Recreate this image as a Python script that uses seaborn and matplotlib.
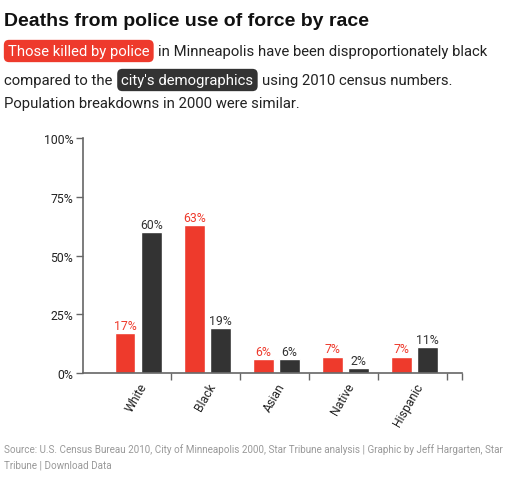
import matplotlib
matplotlib.use("Agg")
import matplotlib.pyplot as plt
import seaborn as sns
import pandas as pd
import numpy as np

categories = ["White", "Black", "Asian", "Native", "Hispanic"]
killed = [17, 63, 6, 7, 7]
demographics = [60, 19, 6, 2, 11]
killed_labels = ["17%", "63%", "6%", "7%", "7%"]
demo_labels = ["60%", "19%", "6%", "2%", "11%"]
series = ["Those killed by police", "City's demographics"]
yticks = [0, 25, 50, 75, 100]
ytick_labels = ["0%", "25%", "50%", "75%", "100%"]

RED = "#ee3a2c"
DARK = "#333333"

df = pd.DataFrame({
    "race": categories * 2,
    "value": killed + demographics,
    "series": [series[0]] * 5 + [series[1]] * 5,
})

sns.set_theme(style="white")
plt.rcParams['font.family'] = ['Roboto', 'DejaVu Sans']

W, H = 525, 485
fig = plt.figure(figsize=(W / 100, H / 100), dpi=100)
ax = fig.add_axes([83 / W, 1 - 374 / H, (462 - 83) / W, (374 - 139) / H])

sns.barplot(data=df, x="race", y="value", hue="series", order=categories,
            hue_order=series, palette=[RED, DARK], width=0.76, gap=0.21,
            saturation=1, legend=False, ax=ax)

ax.set_xlim(-0.80, 4.69)
ax.set_ylim(0, 100)
ax.set_xlabel("")
ax.set_ylabel("")

# value labels
for cont, labs, col in zip(ax.containers, [killed_labels, demo_labels], [RED, DARK]):
    ax.bar_label(cont, labels=labs, padding=1, fontsize=8.8, color=col)

axis_col = "#666666"
for s in ["top", "right"]:
    ax.spines[s].set_visible(False)
for s in ["left", "bottom"]:
    ax.spines[s].set_color(axis_col)
    ax.spines[s].set_linewidth(1.2)

ax.set_yticks(yticks)
ax.set_yticklabels(ytick_labels, fontsize=8.8, color="#222222")
ax.tick_params(axis="y", which="major", length=5, width=1, color=axis_col,
               left=True, pad=2)

ax.set_xticks(range(len(categories)))
ax.set_xticklabels(categories, rotation=60, ha="right", va="top",
                   rotation_mode="anchor", fontsize=8.8, color="#222222")
ax.tick_params(axis="x", which="major", length=0, pad=5)
ax.set_xticks([i + 0.47 for i in range(5)] + [4.69], minor=True)
ax.tick_params(axis="x", which="minor", length=5, width=1, color=axis_col,
               bottom=True, direction="out")

# title
fig.text(4 / W, 1 - 22 / H, "Deaths from police use of force by race",
         fontsize=14, fontweight="bold", family=["Liberation Sans", "DejaVu Sans"],
         color="#111111", va="center", ha="left")

fig.canvas.draw()
renderer = fig.canvas.get_renderer()

sub_fs = 10.7
sub_col = "#222222"

def line(parts, x0, y):
    x = x0
    for i, (txt, kind) in enumerate(parts):
        if kind in ("red", "dark"):
            fc = RED if kind == "red" else DARK
            pre = 4 if i == 0 else 9
            t = fig.text((x + pre) / W, 1 - y / H, txt, fontsize=sub_fs, color="white",
                         va="baseline", ha="left",
                         bbox=dict(boxstyle="round,pad=0.28,rounding_size=0.35",
                                   fc=fc, ec="none"))
        else:
            t = fig.text(x / W, 1 - y / H, txt, fontsize=sub_fs, color=sub_col,
                         va="baseline", ha="left")
        fig.canvas.draw()
        bb = t.get_window_extent(renderer)
        x = bb.x1 + (9 if kind in ("red", "dark") else 0)

line([("Those killed by police", "red"),
      ("in Minneapolis have been disproportionately black", "plain")], 4, 56)
line([("compared to the", "plain"), ("city's demographics", "dark"),
      ("using 2010 census numbers.", "plain")], 4, 85)
line([("Population breakdowns in 2000 were similar.", "plain")], 4, 108)

foot_col = "#999999"
fig.text(4 / W, 1 - 453 / H,
         "Source: U.S. Census Bureau 2010, City of Minneapolis 2000, Star Tribune analysis | Graphic by Jeff Hargarten, Star",
         fontsize=7.1, color=foot_col, va="baseline", ha="left")
fig.text(4 / W, 1 - 469 / H, "Tribune | Download Data",
         fontsize=7.1, color=foot_col, va="baseline", ha="left")

fig.savefig("out.png", dpi=100)
